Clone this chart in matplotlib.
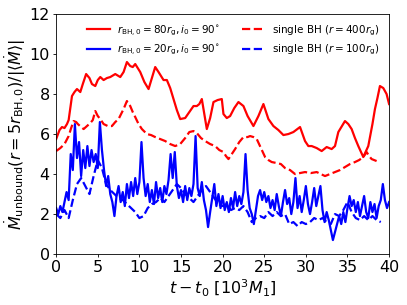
import numpy as np
import matplotlib
matplotlib.use('Agg')
import matplotlib.pyplot as plt

# red solid: r_BH,0 = 80 rg
t_red = [0, 0.4, 0.7, 1.0, 1.3, 1.5, 1.7, 1.9, 2.2, 2.5, 2.9, 3.2, 3.6, 4.0, 4.3, 4.7,
         5.0, 5.3, 5.7, 6.1, 6.5, 7.1, 7.7, 8.1, 8.5, 8.9, 9.2, 9.5, 9.8, 10.1, 10.6,
         11.1, 11.5, 11.9, 12.3, 12.9, 13.3, 13.7, 14.1, 14.5, 14.9, 15.5, 16.0, 16.5,
         16.9, 17.2, 17.5, 17.8, 18.1, 18.5, 18.9, 19.4, 19.9, 20.1, 20.5, 20.9, 21.4,
         21.9, 22.5, 23.0, 23.7, 24.3, 24.9, 25.5, 26.1, 26.7, 27.3, 27.9, 28.5, 29.3,
         29.9, 30.3, 30.7, 31.3, 31.9, 32.5, 33.1, 33.5, 33.9, 34.7, 35.1, 35.5, 35.9,
         36.3, 36.9, 37.5, 38.0, 38.3, 38.6, 38.9, 39.3, 39.7, 40.0]
y_red = [5.75, 6.2, 6.35, 6.3, 6.5, 6.7, 7.3, 7.9, 8.1, 8.25, 8.1, 8.5, 9.0, 8.8, 8.5, 8.4,
         8.7, 8.85, 8.7, 8.8, 8.85, 9.0, 8.85, 9.1, 9.6, 9.4, 9.35, 9.5, 9.3, 9.1, 8.6,
         8.25, 8.8, 9.35, 9.1, 8.7, 8.7, 8.3, 7.75, 7.2, 6.75, 6.8, 7.1, 7.4,
         7.4, 7.5, 7.75, 7.0, 6.25, 6.8, 7.6, 7.7, 7.75, 7.0, 6.8, 6.9, 7.3,
         7.6, 7.4, 6.9, 6.4, 6.9, 7.5, 6.75, 6.4, 6.2, 5.95, 6.0, 6.1, 6.35,
         5.65, 5.4, 5.4, 5.3, 5.15, 5.35, 5.25, 5.4, 6.1, 6.65, 6.5, 6.25, 5.8,
         5.4, 4.85, 5.4, 6.5, 7.25, 7.8, 8.4, 8.3, 8.0, 7.5]

# red dashed: single BH, r = 400 rg
t_red_s = [0, 0.5, 1.0, 1.5, 1.8, 2.1, 2.4, 2.6, 3.0, 3.3, 3.7, 4.1, 4.4, 4.7, 5.0, 5.3,
           5.7, 6.2, 6.7, 7.1, 7.5, 7.8, 8.1, 8.5, 8.9, 9.2, 9.5, 9.9, 10.3, 10.9, 11.4,
           11.9, 12.5, 13.1, 13.7, 14.3, 14.9, 15.5, 16.0, 16.5, 16.9, 17.4, 17.9, 18.5,
           19.1, 19.6, 20.1, 20.4, 20.7, 21.1, 21.5, 22.0, 22.5, 23.0, 23.3, 23.7, 24.1,
           24.6, 25.1, 25.5, 25.9, 26.5, 27.0, 27.5, 28.1, 28.7, 29.3, 29.9, 30.6, 31.3,
           31.8, 32.3, 32.9, 33.5, 34.1, 34.7, 35.3, 35.9, 36.4, 36.9, 37.3, 37.6, 37.9,
           38.2, 38.5]
y_red_s = [5.15, 5.3, 5.5, 5.9, 6.3, 6.65, 6.6, 6.5, 6.35, 6.25, 6.4, 6.55, 6.7, 7.15, 6.9, 6.75,
           6.5, 6.4, 6.4, 6.6, 6.75, 7.0, 7.25, 7.65, 7.4, 7.1, 6.85, 6.5, 6.25, 6.0, 5.95,
           5.85, 5.75, 5.65, 5.5, 5.4, 5.5, 5.8, 6.1, 6.15, 6.05, 5.8, 5.65, 5.5,
           5.4, 5.2, 5.1, 4.9, 4.75, 5.0, 5.25, 5.6, 5.85, 5.85, 5.9, 5.85, 5.75,
           5.3, 4.85, 4.7, 4.6, 4.55, 4.5, 4.3, 4.2, 4.0, 4.05, 4.1, 4.05, 4.1,
           4.0, 3.9, 4.0, 4.1, 4.2, 4.35, 4.5, 4.6, 4.7, 4.85, 5.1, 4.9, 4.75,
           4.7, 4.65]

# blue solid: r_BH,0 = 20 rg, sampled every 0.25
t_blue = np.arange(0, 40.01, 0.25)
y_blue = [2.3, 2.0, 2.4, 2.1, 2.6, 3.1, 2.7, 5.0,
          4.2, 6.5, 4.8, 5.6, 3.9, 5.2, 4.3, 5.4,
          4.4, 5.2, 4.6, 5.0, 4.3, 6.6, 5.2, 4.2,
          3.4, 3.9, 3.0, 2.6, 1.9, 2.9, 3.4, 2.6,
          3.1, 2.4, 3.5, 2.8, 3.6, 2.9, 3.8, 3.0,
          3.6, 5.6, 3.8, 2.9, 3.5, 2.6, 3.2, 2.5,
          3.6, 2.8, 3.3, 2.6, 3.4, 3.0, 3.7, 5.0,
          3.8, 5.1, 3.4, 2.8, 3.2, 2.6, 3.4, 2.7,
          3.3, 2.9, 3.5, 5.9, 3.3, 2.9, 3.6, 2.7,
          2.2, 1.35, 2.1, 2.8, 3.5, 2.4, 3.0, 2.3,
          2.9, 2.2, 2.6, 2.1, 2.8, 2.3, 3.1, 2.4,
          2.9, 2.5, 3.1, 5.0, 3.2, 2.3, 2.0, 1.5,
          2.2, 2.9, 3.2, 2.7, 3.1, 2.6, 2.9, 2.3,
          2.7, 2.2, 3.0, 2.4, 1.9, 2.6, 3.2, 2.5,
          2.8, 2.0, 2.6, 3.8, 2.3, 2.9, 2.1, 2.7,
          3.4, 2.5, 2.0, 2.6, 3.3, 2.4, 2.9, 3.4,
          2.2, 1.6, 2.1, 1.7, 1.2, 0.7, 1.1, 1.5,
          1.9, 1.5, 2.1, 1.6, 2.3, 2.9, 2.4, 2.7,
          2.1, 2.6, 1.9, 2.4, 2.9, 2.1, 1.8, 2.6,
          2.1, 2.5, 1.8, 2.4, 2.7, 3.5, 2.7, 2.3,
          2.6]

# blue dashed: single BH, r = 100 rg, sampled every 0.5
t_blue_s = np.arange(0, 39.01, 0.5)
y_blue_s = [2.0, 1.8, 2.2, 1.8, 2.7, 3.5, 3.8, 3.4,
            3.0, 3.9, 4.7, 4.3, 3.5, 3.2, 3.0, 2.8,
            2.7, 2.5, 2.3, 2.1, 1.8, 1.9, 2.3, 2.5,
            2.6, 2.8, 2.6, 2.9, 3.2, 3.5, 3.3, 3.0,
            2.8, 2.6, 2.9, 3.2, 3.4, 3.1, 2.8, 2.5,
            2.4, 2.5, 2.2, 2.3, 2.2, 2.4, 2.1, 1.6,
            1.8, 1.9, 1.8, 2.1, 1.9, 2.1, 1.9, 2.0,
            1.5, 1.6, 1.4, 1.6, 1.5, 1.6, 1.8, 1.7,
            1.8, 1.6, 1.5, 2.0, 1.9, 2.2, 2.6, 2.1,
            1.8, 1.7, 1.9, 1.7, 1.9, 1.7, 1.6]

fig = plt.figure(figsize=(4.07, 3.05), dpi=100)
ax = fig.add_axes([0.138, 0.167, 0.818, 0.787])

lw = 1.6
ax.plot(t_red, y_red, color='red', lw=lw, label=r'$r_{\rm BH,0}=80r_{\rm g}, i_0=90^{\circ}$')
ax.plot(t_blue, y_blue, color='blue', lw=lw, label=r'$r_{\rm BH,0}=20r_{\rm g}, i_0=90^{\circ}$')
ax.plot(t_red_s, y_red_s, color='red', lw=lw, ls='--', label=r'single BH ($r=400r_{\rm g}$)')
ax.plot(t_blue_s, y_blue_s, color='blue', lw=lw, ls='--', label=r'single BH ($r=100r_{\rm g}$)')

ax.set_xlim(0, 40)
ax.set_ylim(0, 12)
ax.set_xticks(range(0, 41, 5))
ax.set_yticks(range(0, 13, 2))
ax.tick_params(labelsize=11.5, length=2.3, pad=2.3, width=0.6)
for s in ax.spines.values():
    s.set_linewidth(0.6)
ax.set_xlabel(r'$t-t_0\ [10^3M_1]$', fontsize=11.5, labelpad=1.5)
ax.set_ylabel(r'$\dot{M}_{\rm unbound}(r=5r_{\rm BH,0})/|\langle\dot{M}\rangle|$', fontsize=11.5, labelpad=2)
ax.legend(ncol=2, frameon=False, fontsize=7.5, loc='upper right', handlelength=2.2,
          handletextpad=0.7, columnspacing=2.1, borderaxespad=0.5)

fig.savefig('out.png', dpi=100)
